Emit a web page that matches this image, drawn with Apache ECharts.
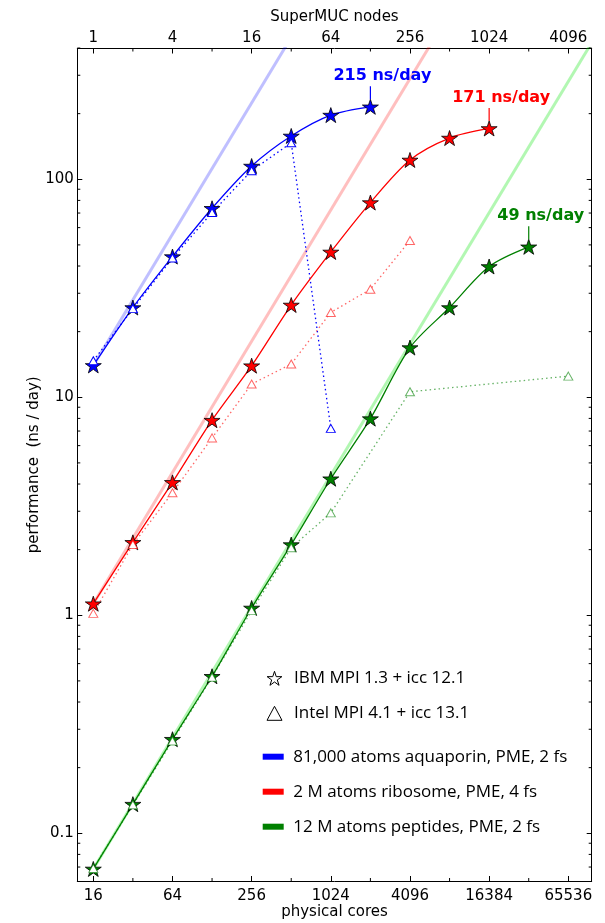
<!DOCTYPE html>
<html><head><meta charset="utf-8">
<script src="https://cdn.jsdelivr.net/npm/echarts@6.0.0/dist/echarts.min.js"></script>
<style>html,body{margin:0;padding:0;background:#fff}#c{width:605px;height:923px}</style>
</head><body><div id="c"></div>
<script>
// ---- data ----
const coresAquaIBM   = [16, 32, 64, 128, 256, 512, 1024, 2048];
const perfAquaIBM    = [14.0, 25.8, 44.2, 73.6, 115, 158, 197, 215];
const coresAquaIntel = [16, 32, 64, 128, 256, 512, 1024];
const perfAquaIntel  = [14.7, 25.5, 43.5, 70.4, 109.5, 147, 7.2];

const coresRiboIBM   = [16, 32, 64, 128, 256, 512, 1024, 2048, 4096, 8192, 16384];
const perfRiboIBM    = [1.13, 2.16, 4.07, 7.85, 13.96, 26.5, 46.4, 78.2, 122.6, 154.6, 171];
const coresRiboIntel = [16, 32, 64, 128, 256, 512, 1024, 2048, 4096];
const perfRiboIntel  = [1.02, 2.11, 3.65, 6.51, 11.5, 14.2, 24.5, 31.3, 52.4];

const coresPepIBM    = [16, 32, 64, 128, 256, 512, 1024, 2048, 4096, 8192, 16384, 32768];
const perfPepIBM     = [0.0686, 0.136, 0.27, 0.525, 1.08, 2.11, 4.23, 7.98, 16.9, 25.8, 39.8, 49];
const coresPepIntel  = [16, 32, 64, 128, 256, 512, 1024, 4096, 65536];
const perfPepIntel   = [0.069, 0.135, 0.265, 0.52, 1.05, 2.04, 2.95, 10.6, 12.5];

// ideal (linear) scaling guide lines: [cores, ns/day] start and end points
const idealAqua = [[16, 14.0], [512, 448]];
const idealRibo = [[16, 1.13], [8192, 578.6]];
const idealPep  = [[16, 0.0686], [131072, 562]];

const annotAqua = '215 ns/day';
const annotRibo = '171 ns/day';
const annotPep  = '49 ns/day';

const coreTicks  = [16, 64, 256, 1024, 4096, 16384, 65536];
const nodeTicks  = [1, 4, 16, 64, 256, 1024, 4096];
const coreMinor  = [32, 128, 512, 2048, 8192, 32768];
const perfTicks  = [0.1, 1, 10, 100];
const perfMinor  = [0.07, 0.08, 0.09, 0.2, 0.3, 0.4, 0.5, 0.6, 0.7, 0.8, 0.9,
                    2, 3, 4, 5, 6, 7, 8, 9, 20, 30, 40, 50, 60, 70, 80, 90, 200, 300, 400];

const legendMarkers = ['IBM MPI 1.3 + icc 12.1', 'Intel MPI 4.1 + icc 13.1'];
const legendSystems = ['81,000 atoms aquaporin, PME, 2 fs', '2 M atoms ribosome, PME, 4 fs', '12 M atoms peptides, PME, 2 fs'];

// ---- styling ----
const BLUE = '#0000ff', RED = '#ff0000', GREEN = '#008000';
const STAR = 'path://M0,-10 L2.245,-3.09 L9.511,-3.09 L3.633,1.18 L5.878,8.09 L0,3.82 L-5.878,8.09 L-3.633,1.18 L-9.511,-3.09 L-2.245,-3.09 Z';
const FONT = 'DejaVu Sans';
const X_MIN = 12.09, X_MAX = 98700, Y_MIN = 0.0604, Y_MAX = 398;

const pairs = (xs, ys) => ys.map((v, i) => [xs[i], v]);
const findIdx = (arr, v) => arr.findIndex(t => Math.abs(t - v) / t < 1e-6);

function idealSeries(pts, color) {
  return { type: 'line', data: pts, symbol: 'none', silent: true, z: 1,
    lineStyle: { color: color, width: 3 }, clip: true };
}
function dottedSeries(xs, ys, color) {
  return { type: 'line', data: pairs(xs, ys), symbol: 'none', silent: true, z: 2,
    lineStyle: { color: color, width: 1.3, type: [1.5, 3] } };
}
function triSeries(xs, ys, color) {
  return { type: 'scatter', data: pairs(xs, ys), symbol: 'triangle', symbolSize: [9, 8], silent: true, z: 5,
    itemStyle: { color: '#fff', borderColor: color, borderWidth: 1, opacity: 1 } };
}
function starSeries(xs, ys, color, annot) {
  const last = xs.length - 1;
  return { type: 'line', data: pairs(xs, ys), symbol: STAR, symbolSize: [16, 15], showSymbol: true,
    smooth: 0.3, silent: true, z: 4,
    lineStyle: { color: color, width: 1.3 },
    itemStyle: { color: color, borderColor: '#000', borderWidth: 0.8 },
    markPoint: { symbol: 'rect', symbolSize: [1.2, 13], symbolOffset: [0, -14], silent: true, animation: false,
      itemStyle: { color: color },
      label: { show: true, position: 'top', distance: 2, offset: [12, 0], formatter: annot,
        color: color, fontWeight: 'bold', fontSize: 16, fontFamily: FONT },
      data: [{ coord: [xs[last], ys[last]] }] } };
}
function legendDummy(name, color) {
  return { type: 'scatter', name: name, data: [], itemStyle: { color: color, opacity: 1 } };
}

const tickSeries = [
  { type: 'custom', silent: true, z: 10, clip: false,
    data: perfMinor.map(v => [100, v]),
    renderItem: function (params, api) {
      const r = params.coordSys;
      const y = api.coord([api.value(0), api.value(1)])[1];
      return { type: 'group', children: [
        { type: 'line', shape: { x1: r.x, y1: y, x2: r.x + 3, y2: y }, style: { stroke: '#000', lineWidth: 1 } },
        { type: 'line', shape: { x1: r.x + r.width, y1: y, x2: r.x + r.width - 3, y2: y }, style: { stroke: '#000', lineWidth: 1 } }
      ] };
    } },
  { type: 'custom', silent: true, z: 10, clip: false,
    data: coreMinor.map(v => [v, 1]),
    renderItem: function (params, api) {
      const r = params.coordSys;
      const x = api.coord([api.value(0), api.value(1)])[0];
      return { type: 'group', children: [
        { type: 'line', shape: { x1: x, y1: r.y + r.height, x2: x, y2: r.y + r.height - 3 }, style: { stroke: '#000', lineWidth: 1 } },
        { type: 'line', shape: { x1: x, y1: r.y, x2: x, y2: r.y + 3 }, style: { stroke: '#000', lineWidth: 1 } }
      ] };
    } }
];

const axisLineStyle = { show: true, lineStyle: { color: '#000', width: 1 } };
const tickStyle = { show: true, inside: true, length: 5, lineStyle: { color: '#000', width: 1 } };
const labelBase = { color: '#000', fontSize: 15, fontFamily: FONT };

const option = {
  animation: false,
  backgroundColor: '#fff',
  grid: { left: 77.3, right: 13.3, top: 48.5, bottom: 42, containLabel: false, outerBoundsMode: 'none' },
  xAxis: [
    { type: 'log', logBase: 4, min: X_MIN, max: X_MAX, position: 'bottom',
      name: 'physical cores', nameLocation: 'middle', nameGap: 24, nameMoveOverlap: false,
      nameTextStyle: { color: '#000', fontSize: 15, fontFamily: FONT },
      axisLine: axisLineStyle, axisTick: tickStyle, splitLine: { show: false },
      axisLabel: Object.assign({ margin: 8, formatter: v => findIdx(coreTicks, v) >= 0 ? String(coreTicks[findIdx(coreTicks, v)]) : '' }, labelBase) },
    { type: 'log', logBase: 4, min: X_MIN, max: X_MAX, position: 'top',
      name: 'SuperMUC nodes', nameLocation: 'middle', nameGap: 23.5, nameMoveOverlap: false,
      nameTextStyle: { color: '#000', fontSize: 15, fontFamily: FONT },
      axisLine: axisLineStyle, axisTick: tickStyle, splitLine: { show: false },
      axisLabel: Object.assign({ margin: 3, formatter: v => findIdx(coreTicks, v) >= 0 ? String(nodeTicks[findIdx(coreTicks, v)]) : '' }, labelBase) }
  ],
  yAxis: [
    { type: 'log', logBase: 10, min: Y_MIN, max: Y_MAX, position: 'left',
      name: 'performance  (ns / day)', nameLocation: 'middle', nameGap: 36, nameRotate: 90, nameMoveOverlap: false,
      nameTextStyle: { color: '#000', fontSize: 15, fontFamily: FONT },
      axisLine: axisLineStyle, axisTick: tickStyle, splitLine: { show: false },
      axisLabel: Object.assign({ margin: 3.5, formatter: v => findIdx(perfTicks, v) >= 0 ? String(perfTicks[findIdx(perfTicks, v)]) : '' }, labelBase) },
    { type: 'log', logBase: 10, min: Y_MIN, max: Y_MAX, position: 'right',
      axisLine: axisLineStyle, axisTick: tickStyle, splitLine: { show: false },
      axisLabel: { show: false } }
  ],
  legend: [
    { selectedMode: false, orient: 'vertical', left: 266.5, top: 668.3, padding: 0,
      itemWidth: 15, itemHeight: 14, itemGap: 15,
      textStyle: { color: '#000', fontSize: 17, fontFamily: 'Open Sans', lineHeight: 20, padding: [0, 0, 0, 7] },
      data: [
        { name: legendMarkers[0], icon: STAR, itemStyle: { color: '#fff', borderColor: '#000', borderWidth: 1, opacity: 1 } },
        { name: legendMarkers[1], icon: 'triangle', itemStyle: { color: '#fff', borderColor: '#000', borderWidth: 1, opacity: 1 } }
      ] },
    { selectedMode: false, orient: 'vertical', left: 262.7, top: 746.7, padding: 0,
      itemWidth: 21, itemHeight: 6, itemGap: 15,
      textStyle: { color: '#000', fontSize: 17, fontFamily: 'Open Sans', lineHeight: 20, padding: [0, 0, 0, 4.6] },
      data: [
        { name: legendSystems[0], icon: 'rect', itemStyle: { color: BLUE, borderWidth: 0, opacity: 1 } },
        { name: legendSystems[1], icon: 'rect', itemStyle: { color: RED, borderWidth: 0, opacity: 1 } },
        { name: legendSystems[2], icon: 'rect', itemStyle: { color: GREEN, borderWidth: 0, opacity: 1 } }
      ] }
  ],
  series: [
    idealSeries(idealAqua, 'rgba(0,0,255,0.25)'),
    idealSeries(idealRibo, 'rgba(255,0,0,0.25)'),
    idealSeries(idealPep, 'rgba(0,230,0,0.3)'),
    dottedSeries(coresAquaIntel, perfAquaIntel, BLUE),
    dottedSeries(coresRiboIntel, perfRiboIntel, 'rgba(255,0,0,0.6)'),
    dottedSeries(coresPepIntel, perfPepIntel, 'rgba(0,128,0,0.6)'),
    starSeries(coresAquaIBM, perfAquaIBM, BLUE, annotAqua),
    starSeries(coresRiboIBM, perfRiboIBM, RED, annotRibo),
    starSeries(coresPepIBM, perfPepIBM, GREEN, annotPep),
    triSeries(coresAquaIntel, perfAquaIntel, BLUE),
    triSeries(coresRiboIntel, perfRiboIntel, 'rgba(255,0,0,0.6)'),
    triSeries(coresPepIntel, perfPepIntel, 'rgba(0,128,0,0.6)'),
    legendDummy(legendMarkers[0], '#fff'),
    legendDummy(legendMarkers[1], '#fff'),
    legendDummy(legendSystems[0], BLUE),
    legendDummy(legendSystems[1], RED),
    legendDummy(legendSystems[2], GREEN)
  ].concat(tickSeries)
};

const chart = echarts.init(document.getElementById('c'), null, { renderer: 'canvas' });
chart.setOption(option);
</script>
</body></html>
